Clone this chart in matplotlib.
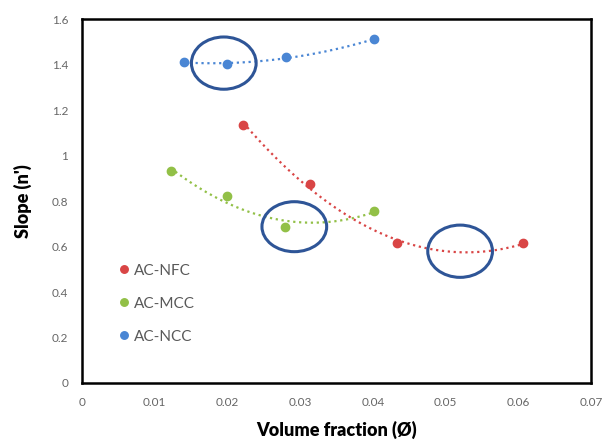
import numpy as np
import matplotlib
matplotlib.use('Agg')
import matplotlib.pyplot as plt
from matplotlib.patches import Ellipse

# data
nfc_x = [0.0222, 0.0314, 0.0433, 0.0606]
nfc_y = [1.136, 0.875, 0.615, 0.615]
mcc_x = [0.0122, 0.0200, 0.0279, 0.0402]
mcc_y = [0.934, 0.824, 0.688, 0.758]
ncc_x = [0.0140, 0.0200, 0.0280, 0.0402]
ncc_y = [1.413, 1.403, 1.433, 1.513]

names = ['AC-NFC', 'AC-MCC', 'AC-NCC']
colors = ['#d94545', '#92c047', '#4a86d4']

# highlighted spots (centre x, centre y, width, height) in data units
circles = [(0.0195, 1.408, 0.0089, 0.23),
           (0.0292, 0.688, 0.0089, 0.22),
           (0.0520, 0.580, 0.0089, 0.23)]

plt.rcParams['font.family'] = ['Lato', 'DejaVu Sans']

fig = plt.figure(figsize=(6.02, 4.42), dpi=100)
ax = fig.add_axes([0.1362, 0.1335, 0.8455, 0.8224])

for xs, ys, c, n in zip([nfc_x, mcc_x, ncc_x], [nfc_y, mcc_y, ncc_y], colors, names):
    p = np.polyfit(xs, ys, 2)
    xx = np.linspace(min(xs), max(xs), 200)
    ax.plot(xx, np.polyval(p, xx), ':', color=c, lw=1.6)
    ax.plot(xs, ys, 'o', color=c, ms=6, label=n, zorder=3)

for cx, cy, w, h in circles:
    ax.add_patch(Ellipse((cx, cy), w, h, fill=False, edgecolor='#2e5597', lw=2.2, zorder=4))

ax.set_xlim(0, 0.07)
ax.set_ylim(0, 1.6)
ax.set_xticks(np.arange(0, 0.071, 0.01))
ax.set_xticklabels(['0', '0.01', '0.02', '0.03', '0.04', '0.05', '0.06', '0.07'])
ax.set_yticks(np.arange(0, 1.61, 0.2))
ax.set_yticklabels(['0', '0.2', '0.4', '0.6', '0.8', '1', '1.2', '1.4', '1.6'])
ax.tick_params(length=0, labelsize=8.5, labelcolor='#666666', pad=10)
for s in ax.spines.values():
    s.set_linewidth(1.8)
    s.set_color('black')

ax.set_xlabel('Volume fraction (Ø)', fontsize=13, fontweight='heavy', labelpad=9)
ax.set_ylabel("Slope (n')", fontsize=13, fontweight='heavy', labelpad=14)

leg = ax.legend(loc='lower left', bbox_to_anchor=(0.04, 0.07), frameon=False,
                fontsize=11, handletextpad=0.2, labelspacing=1.25,
                markerscale=0.9, handlelength=1.0)
for t in leg.get_texts():
    t.set_color('#595959')

fig.savefig('out.png', dpi=100)
